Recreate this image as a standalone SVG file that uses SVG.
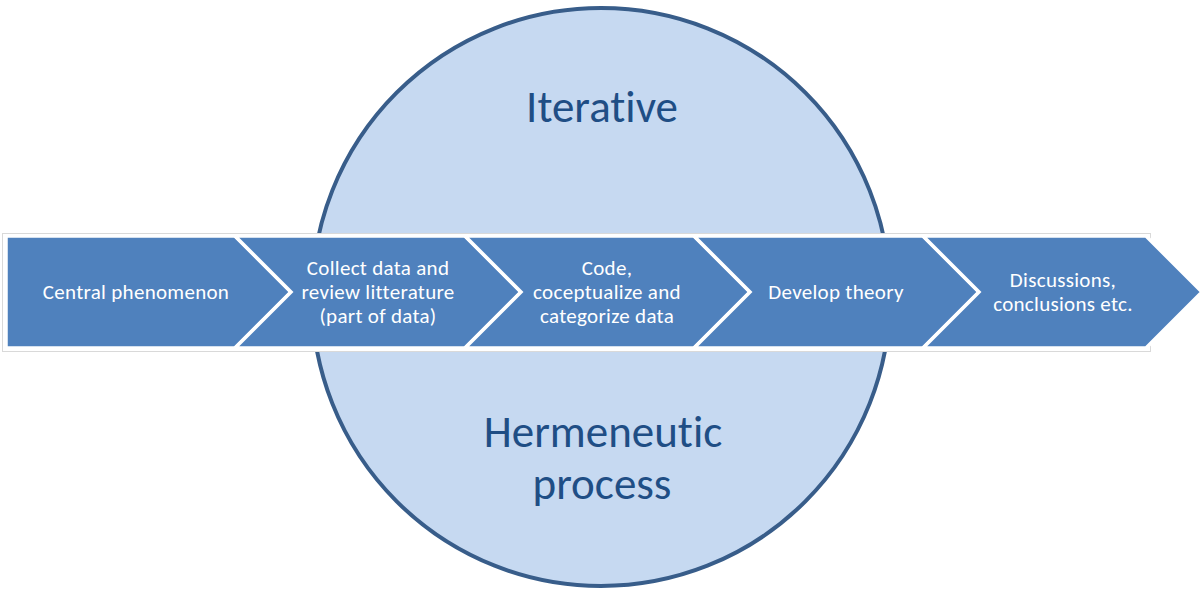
<svg xmlns="http://www.w3.org/2000/svg" width="1201" height="591" viewBox="0 0 1201 591">
  <style>
    .circle { fill: #c6d9f1; stroke: #385d8a; stroke-width: 4; }
    .frame { fill: #ffffff; stroke: #d9d9d9; stroke-width: 1; }
    .chev { fill: #4f81bd; stroke: #ffffff; stroke-width: 3.5; stroke-linejoin: miter; }
    text { font-family: Carlito, Lato, "Liberation Sans", sans-serif; text-anchor: middle; font-variant-ligatures: none; }
    .lbl { font-size: 21px; letter-spacing: 0.3px; fill: #ffffff; }
    .big { font-size: 45px; fill: #1f4e85; }
  </style>

  <!-- background circle with its two labels -->
  <g id="hermeneutic-circle">
    <circle class="circle" cx="601" cy="297" r="289"/>
    <text class="big" x="602" y="122">Iterative</text>
    <text class="big" x="603" y="447">Hermeneutic</text>
    <text class="big" x="602" y="499">process</text>
  </g>

  <!-- band behind the chevron process -->
  <rect class="frame" x="2.5" y="233.5" width="1148" height="118"/>

  <g id="step-1">
    <polygon class="chev" points="6,236 235,236 291,292 235,348 6,348"/>
    <text class="lbl" x="136" y="299">Central phenomenon</text>
  </g>
  <g id="step-2">
    <polygon class="chev" points="235,236 465,236 521,292 465,348 235,348 291,292"/>
    <text class="lbl" x="378" y="275">Collect data and</text>
    <text class="lbl" x="378" y="299">review litterature</text>
    <text class="lbl" x="378" y="323">(part of data)</text>
  </g>
  <g id="step-3">
    <polygon class="chev" points="465,236 694,236 750,292 694,348 465,348 521,292"/>
    <text class="lbl" x="607" y="275">Code,</text>
    <text class="lbl" x="607" y="299">coceptualize and</text>
    <text class="lbl" x="607" y="323">categorize data</text>
  </g>
  <g id="step-4">
    <polygon class="chev" points="694,236 923,236 979,292 923,348 694,348 750,292"/>
    <text class="lbl" x="836" y="299">Develop theory</text>
  </g>
  <g id="step-5">
    <polygon class="chev" points="923,236 1146,236 1202,292 1146,348 923,348 979,292"/>
    <text class="lbl" x="1063" y="287">Discussions,</text>
    <text class="lbl" x="1063" y="311">conclusions etc.</text>
  </g>

  <g id="connectors"/>
</svg>
